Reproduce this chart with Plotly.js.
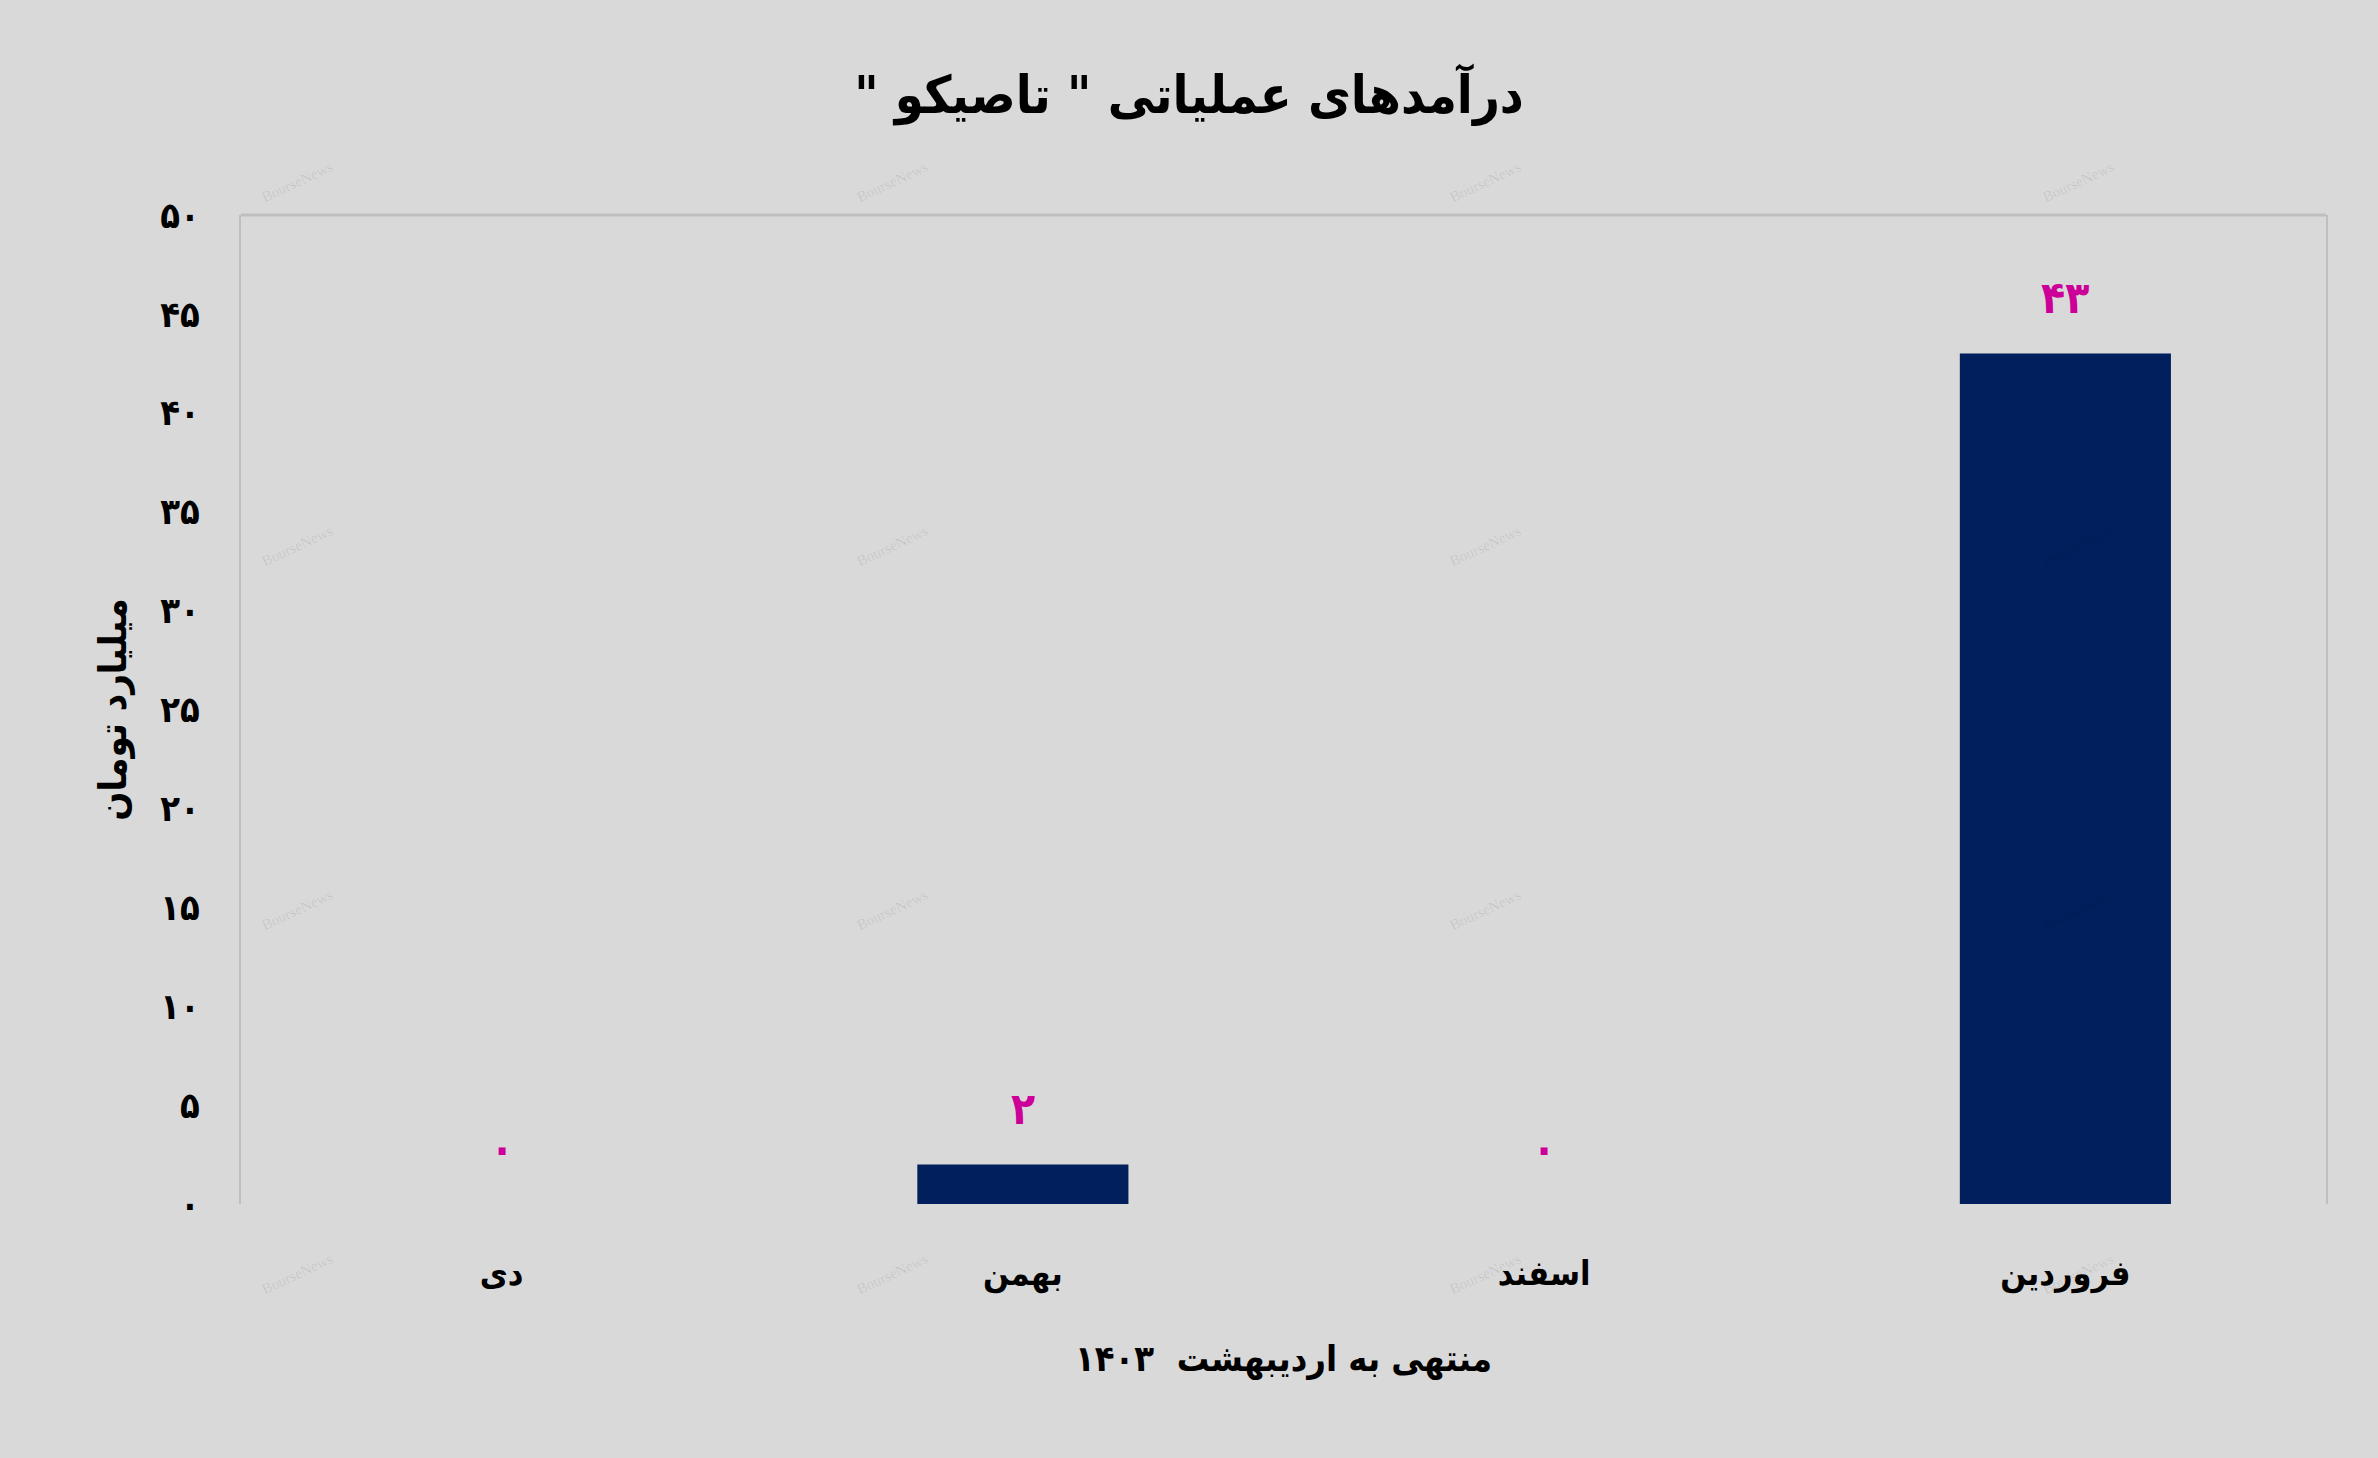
<!DOCTYPE html>
<html>
<head>
<meta charset="utf-8">
<script src="https://cdn.plot.ly/plotly-3.0.1.min.js"></script>
<style>html,body{margin:0;padding:0;background:#d9d9d9;}#chart{width:2378px;height:1458px;}</style>
</head>
<body>
<div id="chart"></div>
<script>
const categories = ['دی', 'بهمن', 'اسفند', 'فروردین'];
const values = [0, 2, 0, 43];
const valueLabels = ['۰', '۲', '۰', '۴۳'];
const yTickVals = [0, 5, 10, 15, 20, 25, 30, 35, 40, 45, 50];
const yTickText = ['۰', '۵', '۱۰', '۱۵', '۲۰', '۲۵', '۳۰', '۳۵', '۴۰', '۴۵', '۵۰'];
const titleText = '\u200Fدرآمدهای عملیاتی " تاصیکو "\u200F';
const xTitleText = 'منتهی به اردیبهشت  ۱۴۰۳';
const yTitleText = 'میلیارد تومان';
const watermark = 'BourseNews';

const FONT = '"DejaVu Sans Condensed", "DejaVu Sans", sans-serif';
const W = 2378, H = 1458, L = 241, R = 52, T = 215, B = 254;
const pw = W - L - R, ph = H - T - B;

const annotations = categories.map((c, i) => ({
  x: c, y: values[i], xref: 'x', yref: 'y',
  text: '<b>' + valueLabels[i] + '</b>', showarrow: false,
  yshift: 56, yanchor: 'middle',
  font: {family: FONT, size: 44, color: '#cc0099'}
}));

// faint watermark grid
const wmX = [297, 892, 1485, 2078];
const wmY = [182, 546, 910, 1274];
wmY.forEach(py => wmX.forEach(px => {
  annotations.push({
    xref: 'paper', yref: 'paper', xanchor: 'center', yanchor: 'middle',
    x: (px - L) / pw, y: (H - B - py) / ph,
    text: watermark, showarrow: false, textangle: -25,
    font: {family: '"Liberation Serif", serif', size: 15, color: 'rgba(0,0,0,0.09)'}
  });
}));

const data = [{
  type: 'bar', x: categories, y: values,
  marker: {color: '#001f5c'},
  hoverinfo: 'skip'
}];

const layout = {
  width: W, height: H,
  paper_bgcolor: '#d9d9d9', plot_bgcolor: '#d9d9d9',
  margin: {l: L, r: R, t: T, b: B, pad: 0},
  bargap: 0.595,
  showlegend: false,
  title: {
    text: '<b>' + titleText + '</b>',
    x: 0.5, xref: 'container', xanchor: 'center',
    y: 1 - 95 / H, yref: 'container', yanchor: 'middle',
    font: {family: FONT, size: 52, color: '#000'}
  },
  xaxis: {
    type: 'category',
    showgrid: false, zeroline: false, showline: false,
    ticks: '', ticklabelstandoff: 46,
    tickfont: {family: FONT, size: 34, color: '#000'},
    ticktext: categories.map(c => '<b>' + c + '</b>'), tickvals: categories,
    title: {text: '<b>' + xTitleText + '</b>', standoff: 52,
      font: {family: FONT, size: 36, color: '#000'}}
  },
  yaxis: {
    range: [0, 50], tickvals: yTickVals, ticktext: yTickText.map(t => '<b>' + t + '</b>'),
    showgrid: false, zeroline: false,
    showline: true, mirror: true, linecolor: '#bfbfbf', linewidth: 2,
    ticks: '', ticklabelstandoff: 32,
    tickfont: {family: FONT, size: 36, color: '#000'},
    title: {text: '<b>' + yTitleText + '</b>', standoff: 22,
      font: {family: FONT, size: 38, color: '#000'}}
  },
  shapes: [{
    type: 'line', xref: 'paper', yref: 'paper', x0: 0, x1: 1, y0: 1, y1: 1,
    line: {color: '#bfbfbf', width: 3}
  }],
  annotations: annotations
};

Plotly.newPlot('chart', data, layout, {displayModeBar: false, staticPlot: true});
</script>
</body>
</html>
